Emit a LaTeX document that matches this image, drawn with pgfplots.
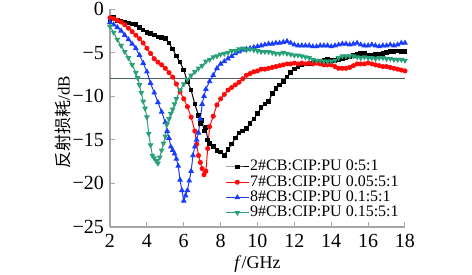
\documentclass[border=0pt]{standalone}
\usepackage{fontspec}
\setmainfont{Liberation Serif}
\newfontfamily\tnr{Liberation Serif}
\newfontfamily\cjk{Noto Sans CJK SC}
\usepackage{pgfplots}
\pgfplotsset{compat=1.18}
\definecolor{cblack}{RGB}{0,0,0}
\definecolor{cred}{RGB}{255,10,10}
\definecolor{cblue}{RGB}{25,60,255}
\definecolor{cgreen}{RGB}{40,160,120}
\definecolor{refline}{RGB}{80,95,95}
\begin{document}
\begin{tikzpicture}[font=\tnr]
\begin{axis}[
  scale only axis,
  width=147.5pt, height=109pt,
  xmin=2, xmax=18, ymin=-25, ymax=0,
  axis x line=bottom, axis y line=left,
  axis line style={-, draw=gray!70, line width=0.6pt},
  tick align=inside,
  major tick length=2.5pt,
  tick style={gray!70, line width=0.5pt},
  xtick={2,4,...,18},
  xticklabels={2,4,6,8,10,12,14,16,18},
  ytick={-25,-20,-15,-10,-5,0},
  yticklabels={−25,−20,−15,−10,−5,0},
  ticklabel style={font=\tnr\fontsize{10}{11}\selectfont, inner sep=1pt},
  xticklabel style={yshift=-2.3pt},
  yticklabel style={xshift=-1.8pt},
  xlabel={\tnr\fontsize{9}{10}\selectfont\textit{f}/GHz},
  ylabel={\fontsize{8.5}{10}\selectfont{\cjk 反射损耗}\tnr/dB},
  xlabel style={inner sep=1pt, yshift=-2pt},
  ylabel style={at={(axis description cs:-0.108,0.48)}, anchor=south},
  legend cell align=left,
  legend style={draw=none, fill=none, font=\tnr\fontsize{8}{9}\selectfont,
    at={(rel axis cs:0.39,0.313)}, anchor=north west,
    row sep=-0.2pt, inner sep=0pt, nodes={inner sep=0.5pt}},
  legend image code/.code={%
    \draw[mark repeat=2,mark phase=2] plot coordinates {(0cm,0cm) (0.2cm,0cm) (0.4cm,0cm)};},
  every axis plot/.append style={line width=0.5pt},
]
\addplot[refline, line width=0.6pt, forget plot] coordinates {(2,-8) (18,-8)};

\addplot[cblack, mark=square*, mark size=0.9pt, mark options={solid}] coordinates {
(2.0,-1.2)(2.2,-1.0)(2.4,-1.3)(2.6,-1.4)(2.8,-1.5)(3.0,-1.6)(3.2,-1.7)(3.4,-1.8)(3.6,-2.1)(3.8,-2.4)
(4.0,-2.7)(4.2,-2.8)(4.4,-3.0)(4.6,-3.2)(4.8,-3.3)(5.0,-3.4)(5.2,-3.9)(5.4,-4.6)(5.6,-5.4)(5.8,-6.1)
(6.0,-7.0)(6.2,-8.3)(6.4,-9.3)(6.6,-10.9)(6.8,-12.2)(6.9,-13.1)(7.0,-12.8)(7.1,-14.0)(7.2,-13.6)(7.3,-15.0)
(7.4,-15.4)(7.6,-15.8)(7.8,-16.2)(8.0,-16.4)(8.2,-16.8)(8.4,-16.1)(8.6,-15.5)(8.8,-14.8)(9.0,-14.2)(9.2,-14.0)
(9.4,-13.7)(9.6,-13.1)(9.8,-12.6)(10.0,-12.0)(10.2,-11.3)(10.4,-10.9)(10.6,-10.6)(10.8,-9.7)(11.0,-9.1)(11.2,-8.7)
(11.4,-8.3)(11.6,-7.8)(11.8,-7.3)(12.0,-6.9)(12.2,-6.6)(12.4,-6.4)(12.6,-6.3)(12.8,-6.3)(13.0,-6.2)(13.2,-6.1)
(13.4,-6.0)(13.6,-5.9)(13.8,-5.8)(14.0,-5.9)(14.2,-5.9)(14.4,-5.8)(14.6,-5.7)(14.8,-5.6)(15.0,-5.5)(15.2,-5.3)
(15.4,-5.2)(15.6,-5.1)(15.8,-5.1)(16.0,-5.3)(16.2,-5.3)(16.4,-5.2)(16.6,-5.2)(16.8,-5.1)(17.0,-5.0)(17.2,-4.9)
(17.4,-4.9)(17.6,-4.8)(17.8,-4.9)(18.0,-4.9)};
\addlegendentry{2\#CB:CIP:PU 0:5:1}

\addplot[cred, mark=*, mark size=1.0pt, mark options={solid}] coordinates {
(2.0,-1.0)(2.2,-1.1)(2.4,-1.3)(2.6,-1.5)(2.8,-1.8)(3.0,-2.2)(3.2,-2.6)(3.4,-3.0)(3.6,-3.4)(3.8,-3.9)
(4.0,-4.5)(4.2,-5.1)(4.4,-5.7)(4.6,-6.1)(4.8,-6.4)(5.0,-6.8)(5.2,-7.3)(5.4,-7.8)(5.6,-8.6)(5.8,-9.5)
(6.0,-10.3)(6.2,-11.2)(6.4,-12.4)(6.6,-14.0)(6.7,-15.5)(6.8,-16.8)(6.9,-17.6)(7.0,-18.3)(7.1,-19.0)(7.2,-18.6)
(7.3,-16.0)(7.4,-13.5)(7.6,-12.3)(7.8,-11.0)(8.0,-10.3)(8.2,-9.8)(8.4,-9.3)(8.6,-9.0)(8.8,-8.7)(9.0,-8.4)
(9.2,-8.0)(9.4,-7.6)(9.6,-7.4)(9.8,-7.2)(10.0,-7.1)(10.2,-6.9)(10.4,-6.9)(10.6,-6.8)(10.8,-6.7)(11.0,-6.6)
(11.2,-6.5)(11.4,-6.4)(11.6,-6.3)(11.8,-6.3)(12.0,-6.2)(12.2,-6.3)(12.4,-6.2)(12.6,-6.3)(12.8,-6.2)(13.0,-6.3)
(13.2,-6.2)(13.4,-6.3)(13.6,-6.4)(13.8,-6.4)(14.0,-6.4)(14.2,-6.6)(14.4,-6.8)(14.6,-6.8)(14.8,-6.8)(15.0,-6.7)
(15.2,-6.5)(15.4,-6.3)(15.6,-6.3)(15.8,-6.3)(16.0,-6.2)(16.2,-6.3)(16.4,-6.4)(16.6,-6.5)(16.8,-6.6)(17.0,-6.6)
(17.2,-6.7)(17.4,-6.8)(17.6,-6.9)(17.8,-7.0)(18.0,-7.1)};
\addlegendentry{7\#CB:CIP:PU 0.05:5:1}

\addplot[cblue, mark=triangle*, mark size=1.2pt, mark options={solid}] coordinates {
(2.0,-1.5)(2.2,-1.8)(2.4,-2.1)(2.6,-2.5)(2.8,-3.0)(3.0,-3.5)(3.2,-4.0)(3.4,-4.5)(3.6,-5.3)(3.8,-6.2)
(4.0,-7.2)(4.2,-8.5)(4.4,-9.6)(4.6,-10.7)(4.8,-11.8)(5.0,-13.0)(5.1,-14.0)(5.2,-14.8)(5.3,-15.8)(5.4,-16.2)
(5.5,-16.6)(5.6,-17.2)(5.7,-18.0)(5.8,-19.6)(5.9,-20.8)(6.0,-22.0)(6.1,-21.4)(6.2,-20.8)(6.3,-19.7)(6.4,-18.6)
(6.5,-16.8)(6.6,-15.8)(6.7,-15.0)(6.8,-14.2)(6.9,-12.6)(7.0,-10.9)(7.1,-10.0)(7.2,-9.2)(7.4,-8.3)(7.6,-7.6)
(7.8,-6.8)(8.0,-6.3)(8.2,-6.0)(8.4,-5.7)(8.6,-5.4)(8.8,-5.1)(9.0,-4.9)(9.2,-4.7)(9.4,-4.6)(9.6,-4.5)
(9.8,-4.4)(10.0,-4.3)(10.2,-4.2)(10.4,-4.1)(10.6,-4.0)(10.8,-4.0)(11.0,-3.9)(11.2,-3.9)(11.4,-3.8)(11.6,-3.7)
(11.8,-3.9)(12.0,-4.1)(12.2,-4.2)(12.4,-4.2)(12.6,-4.2)(12.8,-4.2)(13.0,-4.3)(13.2,-4.3)(13.4,-4.2)(13.6,-4.2)
(13.8,-4.2)(14.0,-4.3)(14.2,-4.2)(14.4,-4.1)(14.6,-4.0)(14.8,-4.0)(15.0,-4.1)(15.2,-4.0)(15.4,-3.9)(15.6,-4.1)
(15.8,-4.2)(16.0,-4.2)(16.2,-4.1)(16.4,-4.2)(16.6,-4.3)(16.8,-4.2)(17.0,-4.2)(17.2,-4.1)(17.4,-4.2)(17.6,-4.1)
(17.8,-3.9)(18.0,-3.9)};
\addlegendentry{8\#CB:CIP:PU 0.1:5:1}

\addplot[cgreen, mark=triangle*, mark size=1.2pt, mark options={solid, rotate=180}] coordinates {
(2.0,-2.0)(2.2,-2.7)(2.4,-3.5)(2.6,-4.2)(2.8,-4.9)(3.0,-5.6)(3.2,-6.4)(3.4,-7.3)(3.5,-7.9)(3.6,-8.7)
(3.7,-9.6)(3.8,-10.6)(3.9,-11.4)(4.0,-12.4)(4.1,-14.3)(4.2,-15.6)(4.3,-16.8)(4.4,-17.1)(4.5,-17.4)(4.6,-17.7)
(4.7,-17.0)(4.8,-16.2)(4.9,-15.4)(5.0,-14.6)(5.1,-13.2)(5.2,-12.6)(5.3,-12.0)(5.4,-11.5)(5.5,-10.9)(5.6,-10.3)
(5.8,-9.3)(6.0,-8.6)(6.2,-8.1)(6.4,-7.6)(6.6,-7.2)(6.8,-6.8)(7.0,-6.5)(7.2,-6.0)(7.4,-5.8)(7.6,-5.5)
(7.8,-5.4)(8.0,-5.2)(8.2,-5.1)(8.4,-5.0)(8.6,-4.8)(8.8,-4.8)(9.0,-4.6)(9.2,-4.5)(9.4,-4.7)(9.6,-4.6)
(9.8,-4.7)(10.0,-4.8)(10.2,-4.9)(10.4,-4.9)(10.6,-4.9)(10.8,-5.0)(11.0,-5.1)(11.2,-5.1)(11.4,-5.0)(11.6,-5.1)
(11.8,-5.2)(12.0,-5.3)(12.2,-5.3)(12.4,-5.4)(12.6,-5.5)(12.8,-5.6)(13.0,-5.8)(13.2,-5.9)(13.4,-5.9)(13.6,-6.0)
(13.8,-6.0)(14.0,-6.0)(14.2,-5.9)(14.4,-5.6)(14.6,-5.4)(14.8,-5.4)(15.0,-5.4)(15.2,-5.4)(15.4,-5.5)(15.6,-5.6)
(15.8,-5.5)(16.0,-5.6)(16.2,-5.6)(16.4,-5.7)(16.6,-5.6)(16.8,-5.6)(17.0,-5.7)(17.2,-5.7)(17.4,-5.8)(17.6,-5.8)
(17.8,-5.8)(18.0,-5.9)};
\addlegendentry{9\#CB:CIP:PU 0.15:5:1}
\end{axis}
\path ([xshift=-55pt,yshift=-19.5pt]current axis.south west) rectangle ([xshift=33.5pt,yshift=4.5pt]current axis.north east);
\end{tikzpicture}
\end{document}
